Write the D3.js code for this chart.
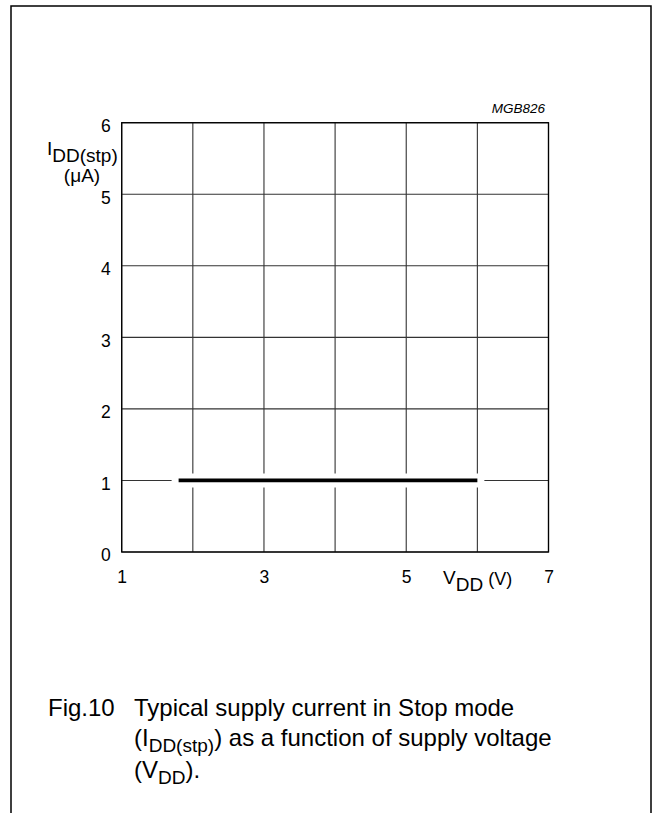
<!DOCTYPE html>
<html>
<head>
<meta charset="utf-8">
<script src="https://cdn.jsdelivr.net/npm/d3@7"></script>
<style>
  html, body { margin: 0; padding: 0; background: #fff; }
  svg { display: block; font-family: "Liberation Sans", Arial, Helvetica, sans-serif; }
  .tick text { font-size: 17.5px; font-family: "Liberation Sans", Arial, sans-serif; fill: #000; }
</style>
</head>
<body>
<svg id="chart" width="653" height="813"></svg>
<script>
// ---- data ----
const xDomain = [1, 7];
const yDomain = [0, 6];
const xTickLabels = [1, 3, 5, 7];
const yTickLabels = [0, 1, 2, 3, 4, 5, 6];
const xGrid = [1, 2, 3, 4, 5, 6, 7];
const yGrid = [0, 1, 2, 3, 4, 5, 6];
const supplyVoltage = [1.8, 6.0];   // V_DD (V)
const stopCurrent = [1.0, 1.0];     // I_DD(stp) (µA)
const chartCode = "MGB826";

(function () {
const svg = d3.select("#chart");

// page frame (no bottom edge)
svg.append("path")
  .attr("d", "M11,813 V6 H651 V813")
  .attr("fill", "none").attr("stroke", "#000").attr("stroke-width", 1.5);

const pL = 121.7, pR = 548.5, pT = 122.7, pB = 552;
const x = d3.scaleLinear().domain(xDomain).range([pL, pR]);
const y = d3.scaleLinear().domain(yDomain).range([pB, pT]);

const g = svg.append("g");

// grid
g.selectAll("line.vg").data(xGrid).join("line")
  .attr("x1", d => x(d)).attr("x2", d => x(d))
  .attr("y1", pT).attr("y2", pB)
  .attr("stroke", "#333").attr("stroke-width", 1.1);
g.selectAll("line.hg").data(yGrid).join("line")
  .attr("y1", d => y(d)).attr("y2", d => y(d))
  .attr("x1", pL).attr("x2", pR)
  .attr("stroke", "#333").attr("stroke-width", 1.1);

// plot border
g.append("rect")
  .attr("x", pL).attr("y", pT)
  .attr("width", pR - pL).attr("height", pB - pT)
  .attr("fill", "none").attr("stroke", "#000").attr("stroke-width", 1.3);

// axes (tick labels only) via d3 axes
const xAxis = d3.axisBottom(x).tickValues(xTickLabels).tickSize(0).tickPadding(19).tickFormat(d3.format("d"));
const gx = svg.append("g").attr("transform", `translate(0,${pB})`).call(xAxis);
gx.select(".domain").remove();

const yAxis = d3.axisLeft(y).tickValues(yTickLabels).tickSize(0).tickPadding(11).tickFormat(d3.format("d"));
const gy = svg.append("g").attr("transform", `translate(${pL},0)`).call(yAxis);
gy.select(".domain").remove();
gy.selectAll("text").attr("dy", "0.5em");

// data line with white halo
const line = d3.line().x((d, i) => x(supplyVoltage[i])).y((d, i) => y(stopCurrent[i]));
g.append("path").datum(stopCurrent).attr("d", line)
  .attr("fill", "none").attr("stroke", "#fff").attr("stroke-width", 14).attr("stroke-linecap", "square");
g.append("path").datum(stopCurrent).attr("d", line)
  .attr("fill", "none").attr("stroke", "#000").attr("stroke-width", 3.8);

// code label
svg.append("text").attr("x", 545).attr("y", 113).attr("text-anchor", "end")
  .style("font-size", "13.5px").attr("font-style", "italic").text(chartCode);

// y-axis title
const yt = svg.append("text").style("font-size", "19px").attr("fill", "#000");
yt.append("tspan").attr("x", 47).attr("y", 155).text("I");
yt.append("tspan").attr("y", 162).text("DD(stp)");
svg.append("text").attr("x", 82).attr("y", 182).attr("text-anchor", "middle")
  .style("font-size", "19px").text("(μA)");

// x-axis title
const xt = svg.append("text").style("font-size", "19px").attr("fill", "#000");
xt.append("tspan").attr("x", 443).attr("y", 584).text("V");
xt.append("tspan").attr("y", 591).text("DD");
xt.append("tspan").attr("y", 585).style("font-size", "18px").text(" (V)");

// caption
const cap = svg.append("g").style("font-size", "24px").attr("fill", "#000");
cap.append("text").attr("x", 48).attr("y", 716).text("Fig.10");
cap.append("text").attr("x", 134).attr("y", 716).text("Typical supply current in Stop mode");
const l2 = cap.append("text").attr("x", 134).attr("y", 746);
l2.append("tspan").text("(I");
l2.append("tspan").attr("dy", 6).style("font-size", "19px").text("DD(stp)");
l2.append("tspan").attr("dy", -6).text(") as a function of supply voltage");
const l3 = cap.append("text").attr("x", 134).attr("y", 778);
l3.append("tspan").text("(V");
l3.append("tspan").attr("dy", 6).style("font-size", "19px").text("DD");
l3.append("tspan").attr("dy", -6).text(").");
})();
</script>
</body>
</html>
